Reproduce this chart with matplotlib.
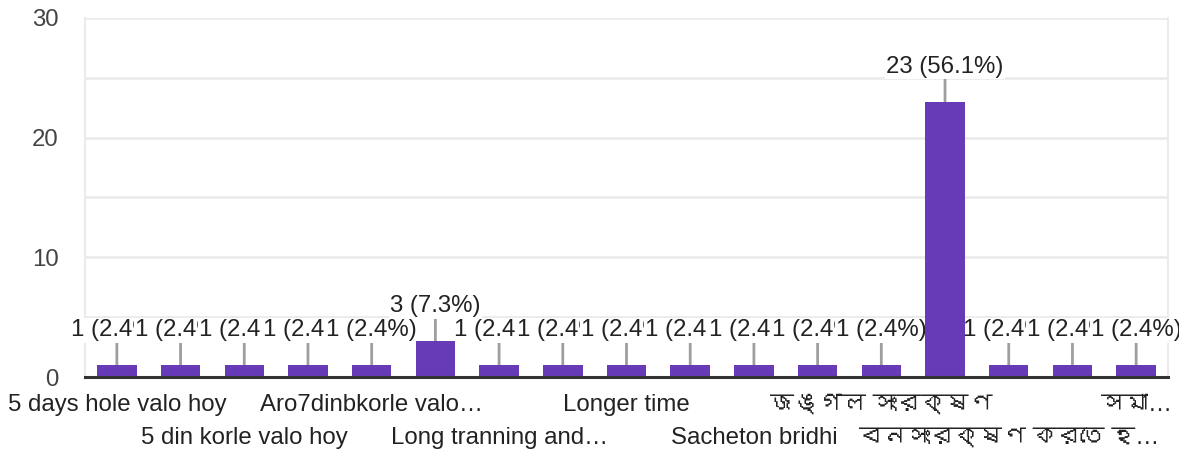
import matplotlib
matplotlib.use("Agg")
import matplotlib.pyplot as plt
from matplotlib import font_manager
from matplotlib.ft2font import FT2Font

# ---- data ----
categories = [
    "5 days hole valo hoy", "", "5 din korle valo hoy", "", "Aro7dinbkorle valo…", "",
    "Long tranning and…", "", "Longer time", "", "Sacheton bridhi", "",
    "জঙ্গল সংরক্ষণ", "", "বনসংরক্ষণ করতে হ…", "", "সমা…",
]
values = [1, 1, 1, 1, 1, 3, 1, 1, 1, 1, 1, 1, 1, 23, 1, 1, 1]
y_ticks = [0, 10, 20, 30]

# ---- fonts ----
def find_bengali_font():
    for f in font_manager.fontManager.ttflist:
        try:
            cm = FT2Font(f.fname).get_charmap()
            if 0x0995 in cm:
                return f.name
        except Exception:
            pass
    return None

beng = find_bengali_font()
families = ["Liberation Sans", "DejaVu Sans"]
if beng:
    families = ["Liberation Sans", beng, "DejaVu Sans"]
plt.rcParams["font.family"] = families

FS = 17.3
BAR = "#673ab7"
GRID = "#ebebeb"
TXT = "#222222"

fig = plt.figure(figsize=(11.79, 4.5), dpi=100)
ax = fig.add_axes([85 / 1179, 1 - 377 / 450, (1168 - 85) / 1179, (377 - 18) / 450])

x = list(range(len(values)))
ax.bar(x, values, width=0.62, color=BAR, zorder=5)

ax.set_xlim(-0.5, len(values) - 0.5)
ax.set_ylim(0, 30)
ax.set_yticks(y_ticks)
ax.set_yticks([5, 15, 25], minor=True)
ax.grid(axis="y", which="both", color=GRID, lw=2, zorder=0)
ax.set_axisbelow(True)
ax.tick_params(axis="y", which="both", length=0, pad=19, labelsize=FS, labelcolor="#444444")

# x labels in two staggered rows
row1 = [i for i in x if i % 4 == 0]
row2 = [i for i in x if i % 4 == 2]
ax.set_xticks(row1, [categories[i] for i in row1])
ax.set_xticks(row2, [categories[i] for i in row2], minor=True)
ax.tick_params(axis="x", which="major", length=0, pad=12, labelsize=FS, labelcolor=TXT)
ax.tick_params(axis="x", which="minor", length=0, pad=36, labelsize=FS, labelcolor=TXT)

for s in ["left", "right"]:
    ax.spines[s].set_color(GRID)
    ax.spines[s].set_linewidth(1.5)
ax.spines["top"].set_visible(False)
ax.spines["bottom"].set_color("#333333")
ax.spines["bottom"].set_linewidth(2.2)
ax.spines["bottom"].set_zorder(6)

total = sum(values)
for i, v in zip(x, values):
    ax.annotate(
        f"{v} ({v / total * 100:.1f}%)",
        xy=(i, v), xytext=(0, 25), textcoords="offset points",
        ha="center", va="center", fontsize=FS, color=TXT,
        bbox=dict(boxstyle="square,pad=0.05", fc="white", ec="none"),
        arrowprops=dict(arrowstyle="-", color="#9e9e9e", lw=2, shrinkA=0, shrinkB=0),
        zorder=3, annotation_clip=False,
    )

fig.savefig("out.png", dpi=100)
